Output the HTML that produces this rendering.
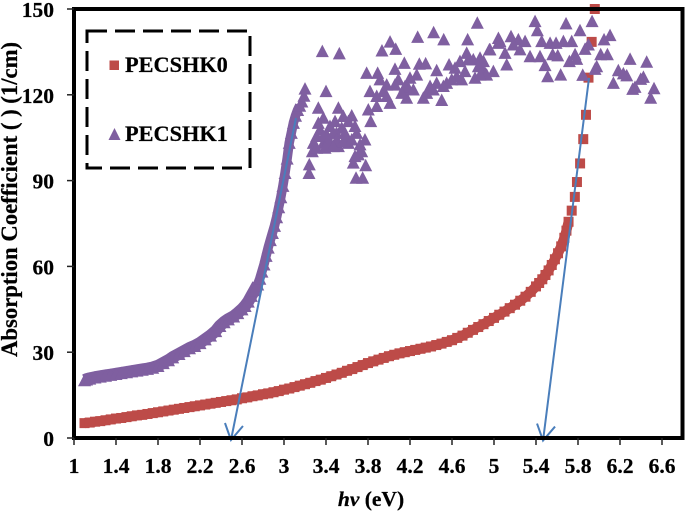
<!DOCTYPE html>
<html>
<head>
<meta charset="utf-8">
<style>
html,body{margin:0;padding:0;background:#fff;}
svg{display:block;filter:blur(0.35px);}
text{font-family:"Liberation Serif",serif;font-weight:bold;fill:#000;stroke:#000;stroke-width:0.25px;}
</style>
</head>
<body>
<svg id="chart" xmlns="http://www.w3.org/2000/svg" width="685" height="512" viewBox="0 0 685 512"></svg>
<script>
const xTicks = ["1","1.4","1.8","2.2","2.6","3","3.4","3.8","4.2","4.6","5","5.4","5.8","6.2","6.6"];
const yTicks = ["0","30","60","90","120","150"];
const seriesNames = ["PECSHK0","PECSHK1"];

const pecshk0X = [1.1,1.15,1.2,1.25,1.3,1.35,1.4,1.45,1.5,1.55,1.6,1.65,1.7,1.75,1.8,1.85,1.9,1.95,2.0,2.05,2.1,2.15,2.2,2.25,2.3,2.35,2.4,2.45,2.5,2.55,2.6,2.65,2.7,2.75,2.8,2.85,2.9,2.95,3.0,3.05,3.1,3.15,3.2,3.25,3.3,3.35,3.4,3.45,3.5,3.55,3.6,3.65,3.7,3.75,3.8,3.85,3.9,3.95,4.0,4.05,4.1,4.15,4.2,4.25,4.3,4.35,4.4,4.45,4.5,4.55,4.6,4.65,4.7,4.75,4.8,4.85,4.9,4.95,5.0,5.05,5.1,5.15,5.2,5.25,5.3,5.35,5.4,5.43,5.46,5.49,5.52,5.55,5.58,5.61,5.64,5.67,5.69,5.71,5.74,5.77,5.79,5.82,5.85,5.876,5.9,5.93,5.96];
const pecshk0Y = [5.2,5.4,5.7,5.9,6.2,6.5,6.8,7.0,7.3,7.6,7.9,8.1,8.4,8.7,9.0,9.3,9.6,9.9,10.2,10.5,10.8,11.1,11.4,11.7,12.0,12.3,12.6,12.9,13.2,13.5,13.9,14.2,14.6,14.9,15.3,15.6,16.0,16.4,16.9,17.3,17.8,18.3,18.8,19.3,19.9,20.4,21.0,21.6,22.2,22.8,23.5,24.1,24.8,25.5,26.2,26.8,27.4,28.0,28.6,29.1,29.6,30.0,30.4,30.8,31.2,31.6,32.0,32.5,33.0,33.6,34.2,35.0,35.8,36.8,37.8,38.8,39.8,40.9,42.0,43.1,44.2,45.4,46.6,48.0,49.4,51.1,53.0,54.2,55.5,57.0,58.6,60.5,62.5,64.6,67.0,70.0,72.5,75.6,79.5,84.3,89.5,96,104.5,113,126,138.5,150];

const pecshk1X = [1.1,1.12,1.15,1.2,1.25,1.3,1.35,1.4,1.45,1.5,1.55,1.6,1.65,1.7,1.75,1.8,1.85,1.9,1.94,2.0,2.05,2.1,2.15,2.2,2.25,2.3,2.35,2.39,2.43,2.47,2.52,2.56,2.6,2.63,2.66,2.69,2.72,2.75,2.77,2.79,2.81,2.83,2.85,2.87,2.89,2.91,2.93,2.95,2.97,2.99,3.01,3.03,3.05,3.07,3.09,3.11,3.13,3.15,3.17,3.19,3.2,3.365,3.527,4.841,4.273,4.425,4.521,4.01,3.933,4.064,4.749,4.956,5.041,4.146,3.787,4.057,3.892,4.289,4.349,4.572,4.454,4.676,4.74,4.803,4.867,4.994,4.898,4.819,4.264,4.2,4.057,3.914,3.819,3.946,3.883,4.01,4.184,4.168,4.327,4.391,4.454,4.549,4.644,4.692,4.502,3.803,3.883,3.826,3.4,3.327,3.518,3.645,3.375,3.565,3.676,3.438,3.549,3.343,3.279,3.375,3.438,3.613,3.771,3.724,3.708,3.66,3.778,3.241,3.238,3.686,3.749,3.27,3.5,3.31,3.518,3.406,3.597,3.486,3.613,5.391,5.686,5.934,5.413,5.819,6.105,6.048,5.042,5.162,5.232,5.296,5.454,5.534,5.591,5.661,5.74,5.899,5.867,4.962,5.105,5.248,5.343,5.438,5.559,5.607,5.772,5.718,5.788,6.016,6.08,6.296,6.454,5.121,5.486,5.978,5.962,6.184,6.232,6.264,6.423,6.397,5.511,5.635,5.845,6.137,6.343,6.321,6.524,6.492,4.915,4.9,5.057,5.184,3.327,3.47,3.581,3.375,3.502,3.565,3.422,3.311,3.645,3.692,3.391,3.47,3.74,3.676,3.978,4.089,4.152,4.121,4.232,3.978,4.359,4.422,4.597,4.518,4.629,4.724,4.756,4.93,4.851,4.867];
const pecshk1Y = [20.0,20.3,20.6,21.0,21.3,21.6,21.9,22.2,22.5,22.8,23.1,23.4,23.7,24.0,24.4,25.0,26.0,27.0,28.0,29.2,30.2,31.2,32.0,33.0,34.3,35.6,37.2,39.0,40.3,41.3,42.3,43.5,44.8,46.0,47.5,49.5,51.5,53.5,55.5,58.0,60.5,63.5,66.4,69.0,71.5,74.0,77.0,80.5,84.0,88.0,92.5,97.5,103.0,106.5,110.0,112.5,114.5,116.0,117.5,119.5,122.0,135.1,134.3,145,140.1,141.7,139.2,138.4,135.3,135.9,139.2,135.7,138,131,127.5,128.9,127.5,130.7,130.8,130.4,128.4,131.6,134.5,132.2,132.8,128.1,128.1,125.8,126.9,125.8,123.4,125.2,121.1,121.1,119.4,117,122.3,118.8,118.8,122.9,124,124,126.3,125.2,118,114.7,115.9,110.6,121.1,115.3,115.3,112.6,111.8,112.4,108.9,108.9,108.3,107.7,103,103,103,103,104.2,102.5,99,96.1,95.2,95.5,92.5,90.8,90.8,100.1,106.5,105.4,101.9,106,104.8,110.6,110.6,145.6,144.8,145.6,142.4,142.4,140.7,139.2,139.7,140.3,139.2,138.6,138.6,138,138,138.6,138.6,137.4,135.9,135.7,134.5,135.7,133.3,133.3,134,133.6,134,131.6,132.4,134,134,132.4,131.4,130.4,130.2,129.8,128.9,128.4,127.3,126.6,126.1,125.4,126.3,126.9,126.8,124,122.6,121.9,122.1,118.8,127.5,131.6,138.6,137.4,110,106.5,106.5,105.4,104.2,103.6,104.2,101.3,104.2,106.5,101.3,101.9,100.1,98.4,119.4,125.2,122.8,120.5,121.7,123.4,120.5,121.7,125.2,122.9,129.3,128.1,132.2,126.9,129.8,126.9];

const arrowStartX = [3.114,5.905];
const arrowStartY = [111.9,125.9];
const arrowTipX = [2.495,5.467];
const arrowTipY = [-0.7,-0.9];

const NS = "http://www.w3.org/2000/svg";
const svg = document.getElementById("chart");
const px = v => 74 + (v - 1) * 105;
const py = v => 438 - v * 2.86;

function mk(tag, attrs, parent) {
  const el = document.createElementNS(NS, tag);
  for (const k in attrs) el.setAttribute(k, attrs[k]);
  (parent || svg).appendChild(el);
  return el;
}
const RED = "#bd4b48";
const PURPLE = "#7f5fa0";
const BLUE = "#4a7ebb";

function band(xs, ys, maxX, color, width, offset) {
  const pts = [];
  xs.forEach((x, i) => { if (x <= maxX) pts.push(px(x) + "," + (py(ys[i]) + offset)); });
  return mk("polyline", {points: pts.join(" "), fill: "none", stroke: color, "stroke-width": width, "stroke-linejoin": "round"});
}

// series 0: dense band + squares
const band0 = band(pecshk0X, pecshk0Y, 5.72, RED, 10, 0);


const g0 = mk("g", {fill: RED});


pecshk0X.forEach((x, i) => {
  const m = mk("rect", {x: px(x) - 5, y: py(pecshk0Y[i]) - 5, width: 10, height: 10}, g0);
  
  
});

// series 1: dense bands (wide on the flat part, narrower on the steep edge) + triangles
const band1 = band(pecshk1X, pecshk1Y, 2.75, PURPLE, 12, -0.75);


const band1Steep = band(pecshk1X, pecshk1Y, 3.15, PURPLE, 9.5, -0.75);


const g1 = mk("g", {fill: PURPLE});


pecshk1X.forEach((x, i) => {
  const cx = px(x), cy = py(pecshk1Y[i]);
  const m = mk("polygon", {points: `${cx},${cy - 7} ${cx + 6.5},${cy + 5.5} ${cx - 6.5},${cy + 5.5}`}, g1);
  
  
});

// arrows
arrowStartX.forEach((x, i) => {
  const x1 = px(x), y1 = py(arrowStartY[i]), x2 = px(arrowTipX[i]), y2 = py(arrowTipY[i]);
  const a = mk("path", {
    d: `M${x1} ${y1}L${x2} ${y2}M${x2 - 6} ${y2 - 17}L${x2} ${y2}L${x2 + 12} ${y2 - 14}`,
    fill: "none", stroke: BLUE, "stroke-width": 2
  });
  
  
});

// axes
const frame = mk("rect", {x: 74, y: 9, width: 608.5, height: 429, fill: "none", stroke: "#000", "stroke-width": 4});



xTicks.forEach(t => {
  const x = px(parseFloat(t));
  const tick = mk("line", {x1: x, x2: x, y1: 438, y2: 445, stroke: "#222", "stroke-width": 1.5});
  
  
  const l = mk("text", {x: x, y: 473, "text-anchor": "middle", "font-size": 21.5});
  l.textContent = t;
  
  
});
yTicks.forEach(t => {
  const y = py(parseFloat(t));
  const tick = mk("line", {x1: 67, x2: 74, y1: y, y2: y, stroke: "#222", "stroke-width": 1.5});
  
  
  const l = mk("text", {x: 54, y: y + 8, "text-anchor": "end", "font-size": 21.5});
  l.textContent = t;
  
  
});

// legend
const box = mk("rect", {x: 87, y: 31, width: 163, height: 137, fill: "none", stroke: "#000", "stroke-width": 3, "stroke-dasharray": "20 8"});


const lm0 = mk("rect", {x: 109.5, y: 60.5, width: 9.5, height: 9.5, fill: RED});


const lm1 = mk("polygon", {points: "114.5,128 120.5,140 108.5,140", fill: PURPLE});


const lt0 = mk("text", {x: 125, y: 72, "font-size": 22.3});
lt0.textContent = seriesNames[0];


const lt1 = mk("text", {x: 125, y: 141, "font-size": 22.3});
lt1.textContent = seriesNames[1];



// titles
const yTitle = mk("text", {transform: "translate(17,199.5) rotate(-90)", "text-anchor": "middle", "font-size": 22.7});
yTitle.textContent = "Absorption Coefficient ( ) (1/cm)";


const xTitle = mk("text", {x: 371, y: 506, "text-anchor": "middle", "font-size": 21.5});


const xi = mk("tspan", {"font-style": "italic"}, xTitle);
xi.textContent = "hv";


const xu = mk("tspan", {}, xTitle);
xu.textContent = " (eV)";


</script>
</body>
</html>
